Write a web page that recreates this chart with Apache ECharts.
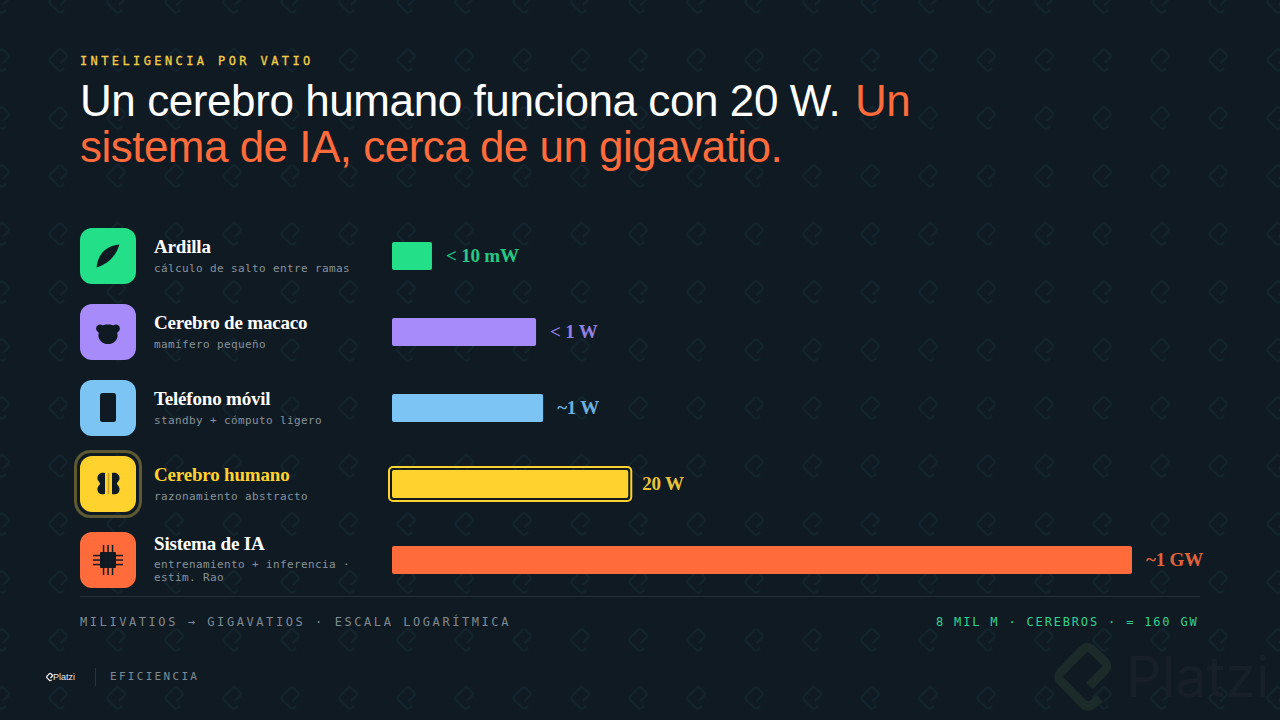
<!DOCTYPE html>
<html><head><meta charset="utf-8">
<style>html,body{margin:0;padding:0;background:#0f1a23}#c{width:1280px;height:720px}</style>
<script src="https://cdn.jsdelivr.net/npm/echarts@6/dist/echarts.min.js"></script>
</head><body><div id="c"></div>
<script>
const categories = ['Ardilla','Cerebro de macaco','Teléfono móvil','Cerebro humano','Sistema de IA'];
const subtitles = [['cálculo de salto entre ramas'],['mamífero pequeño'],['standby + cómputo ligero'],['razonamiento abstracto'],['entrenamiento + inferencia ·','estim. Rao']];
const wattsDrawn = [0.02, 0.78, 1, 20, 1000000000];
const valueLabels = ['< 10 mW','< 1 W','~1 W','20 W','~1 GW'];
const barColors = ['#23df88','#a78bfa','#7cc4f4','#ffd22e','#ff6b3a'];
const labelColors = ['#27c883','#9580e0','#6fb0de','#e9c23a','#e2623b'];
const highlightIndex = 3;
const axisMin = 0.0049, axisMax = 1000000000;

const BG='#0f1a23', DARK='#0f1a23';
const spacing = {
 'INTELIGENCIA POR VATIO':3.4,
 'Un cerebro humano funciona con 20 W.':-0.42,'Un':-0.44,'sistema de IA, cerca de un gigavatio.':-0.52,
 'MILIVATIOS → GIGAVATIOS · ESCALA LOGARÍTMICA':2.57,
 '8 MIL M · CEREBROS · = 160 GW':1.83,
 'EFICIENCIA':2.3
};
categories.forEach(c=>spacing[c]=-0.19);
valueLabels.forEach(c=>spacing[c]=-0.19);
subtitles.flat().forEach(c=>spacing[c]=0.38);

const mono='"DejaVu Sans Mono"', serif='"Liberation Serif"', sans='"Liberation Sans"';
function txt(t,x,y,font,fill,extra){return {type:'text',x,y,z:5,silent:true,style:Object.assign({text:t,font,fill,textAlign:'left',textVerticalAlign:'middle'},extra||{})};}
function logo(cx,cy,k){
 const p=[[6.7,9.3],[26.7,-10.7],[5,-31.7],[-26,0],[5,31.7],[17.3,21.7]].map(q=>[cx+q[0]*k,cy+q[1]*k]);
 const f=n=>n.toFixed(2);
 let d='M'+f(p[0][0])+' '+f(p[0][1]);
 for(let i=1;i<p.length-1;i++){
  const a=p[i-1],b=p[i],c=p[i+1];
  const la=Math.hypot(a[0]-b[0],a[1]-b[1]),lc=Math.hypot(c[0]-b[0],c[1]-b[1]),r=7*k;
  const s=[b[0]+(a[0]-b[0])*r/la,b[1]+(a[1]-b[1])*r/la],e=[b[0]+(c[0]-b[0])*r/lc,b[1]+(c[1]-b[1])*r/lc];
  d+='L'+f(s[0])+' '+f(s[1])+'Q'+f(b[0])+' '+f(b[1])+' '+f(e[0])+' '+f(e[1]);
 }
 d+='L'+f(p[5][0])+' '+f(p[5][1]);
 return d;
}
let pattern='';
for(let j=0;j<13;j++){for(let i=0;i<23;i++){pattern+=logo(i*58,2+j*58,0.37);}}

const g=[];
g.push(txt('Platzi',1126,677,'400 56px Inter','#172029'));
g.push(txt('INTELIGENCIA POR VATIO',80,60.5,'400 12px '+mono,'#f2cd48',{stroke:'#f2cd48',lineWidth:0.3}));
g.push(txt('Un cerebro humano funciona con 20 W.',80,100.5,'400 44px '+sans,'#ffffff'));
g.push(txt('Un',855,100.5,'400 44px '+sans,'#ff6b3a'));
g.push(txt('sistema de IA, cerca de un gigavatio.',80,146.5,'400 44px '+sans,'#ff6b3a'));
const rowY=[256,332,408,484,560];
categories.forEach((c,i)=>{
 const y=rowY[i];
 g.push({type:'rect',z:4,silent:true,shape:{x:80,y:y-28,width:56,height:56,r:12},style:{fill:barColors[i]}});
 const ty=i===4?543:y-10, sy=i===4?[564.5,577.5]:[y+12];
 g.push(txt(c,154,ty,'700 19px '+serif,i===highlightIndex?'#ffd22e':'#ffffff'));
 subtitles[i].forEach((s,k)=>g.push(txt(s,154,sy[k],'400 11px '+mono,'#89939b')));
});
g.push({type:'rect',z:3,silent:true,shape:{x:75.5,y:451.5,width:65,height:65,r:15},style:{fill:'none',stroke:'#5d5a33',lineWidth:3}});
// icons
g.push({type:'circle',z:6,silent:true,shape:{cx:100,cy:328.5,r:3.9},style:{fill:DARK}});
g.push({type:'circle',z:6,silent:true,shape:{cx:116,cy:328.5,r:3.9},style:{fill:DARK}});
g.push({type:'ellipse',z:6,silent:true,shape:{cx:108,cy:330,rx:10.5,ry:5.5},style:{fill:DARK}});
g.push({type:'ellipse',z:6,silent:true,shape:{cx:108,cy:335.5,rx:9.6,ry:8.6},style:{fill:DARK}});
g.push({type:'rect',z:6,silent:true,shape:{x:100,y:393,width:16,height:29,r:2.5},style:{fill:DARK}});
g.push({type:'rect',z:7,silent:true,shape:{x:107.7,y:473,width:1.6,height:21},style:{fill:'#c9a024'}});
g.push({type:'rect',z:6,silent:true,shape:{x:100,y:552,width:16,height:16,r:1},style:{fill:DARK}});
[-4.5,0,4.5].forEach(d=>{
 g.push({type:'rect',z:6,silent:true,shape:{x:107.3+d,y:545,width:1.5,height:30},style:{fill:DARK}});
 g.push({type:'rect',z:6,silent:true,shape:{x:93,y:559.3+d,width:30,height:1.5},style:{fill:DARK}});
});
// footer
g.push({type:'rect',z:2,silent:true,shape:{x:80,y:596,width:1120,height:1},style:{fill:'#252f38'}});
g.push(txt('MILIVATIOS → GIGAVATIOS · ESCALA LOGARÍTMICA',80,621.5,'400 12px '+mono,'#808a92'));
g.push(txt('8 MIL M · CEREBROS · = 160 GW',936,621.5,'400 12px '+mono,'#33d292'));
g.push(txt('Platzi',53,677,'400 9px '+sans,'#e8eaec'));
g.push({type:'rect',z:2,silent:true,shape:{x:95,y:668,width:1,height:18},style:{fill:'#2a343d'}});
g.push(txt('EFICIENCIA',110,676,'400 11px '+mono,'#808a92'));

const decorBack=()=>({type:'group',children:[
 {type:'path',shape:{pathData:pattern},style:{fill:'none',stroke:'#14232c',lineWidth:2.6,lineJoin:'round'}},
 {type:'path',shape:{pathData:logo(1082.5,676.7,1)},style:{fill:'none',stroke:'#1c2b2a',lineWidth:9,lineJoin:'round'}}
]});
const decorFront=()=>({type:'group',children:[
 {type:'path',shape:{pathData:'M119.5 244.5C105.7 246.1 98.1 253.7 96.5 267.5C108.2 263.8 115.8 256.2 119.5 244.5Z'},style:{fill:DARK}},
 {type:'path',shape:{pathData:'M105 473C100 472 97 475 97.5 479C98 481 100.5 483 100 484C99.5 485 97 487 97.5 490C98 494 101 495 105 494ZM112 473C117 472 120 475 119.5 479C119 481 116.5 483 117 484C117.5 485 120 487 119.5 490C119 494 116 495 112 494Z'},style:{fill:DARK}},
 {type:'path',shape:{pathData:logo(49.5,677,0.125)},style:{fill:'none',stroke:'#ffffff',lineWidth:1.2,lineJoin:'round'}}
]});

const chart=echarts.init(document.getElementById('c'),null,{renderer:'svg',width:1280,height:720});
chart.setOption({
 animation:false,
 backgroundColor:BG,
 grid:{left:392,width:740,top:218,height:380},
 xAxis:{type:'log',logBase:10,min:axisMin,max:axisMax,startValue:axisMin,show:false},
 yAxis:{type:'category',inverse:true,data:categories,show:false},
 graphic:{elements:g},
 series:[{
  type:'custom',z:0,silent:true,coordinateSystem:'none',data:[0],renderItem:decorBack
 },{
  type:'bar',z:3,barWidth:28,silent:true,
  data:wattsDrawn.map((v,i)=>({value:v,itemStyle:{color:barColors[i],borderRadius:2},
    label:{show:true,position:'right',distance:14,offset:[0,-1],formatter:valueLabels[i],color:labelColors[i],fontFamily:'Liberation Serif',fontWeight:700,fontSize:19}}))
 },{
  type:'custom',z:3,silent:true,coordinateSystem:'cartesian2d',
  data:[[wattsDrawn[highlightIndex],highlightIndex]],
  renderItem:(p,api)=>{
    const a=api.coord([axisMin,api.value(1)]), b=api.coord([api.value(0),api.value(1)]);
    return {type:'rect',shape:{x:a[0]-3,y:a[1]-17,width:b[0]-a[0]+6,height:34,r:4},style:{fill:'none',stroke:barColors[highlightIndex],lineWidth:2}};
  }
 },{
  type:'custom',z:6,silent:true,coordinateSystem:'none',data:[0],renderItem:decorFront
 }]
});
function applySpacing(){document.querySelectorAll('#c svg text').forEach(t=>{
  const s=spacing[t.textContent];
  if(s!==undefined)t.setAttribute('letter-spacing',s);
});}
applySpacing();
chart.on('finished',applySpacing);
</script></body></html>
